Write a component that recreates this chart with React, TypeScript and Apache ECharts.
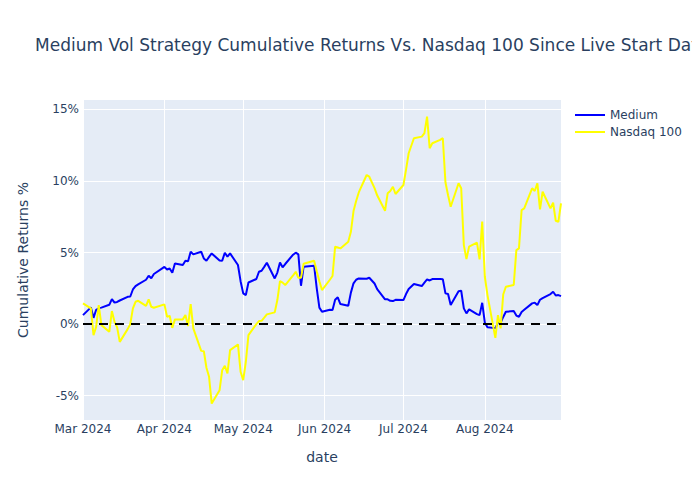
import React, { useEffect, useRef } from "react";
import * as echarts from "echarts";

const dates: string[] = [
  "2024-03-01","2024-03-04","2024-03-05","2024-03-06","2024-03-07","2024-03-08",
  "2024-03-11","2024-03-12","2024-03-13","2024-03-14","2024-03-15",
  "2024-03-18","2024-03-19","2024-03-20","2024-03-21","2024-03-22",
  "2024-03-25","2024-03-26","2024-03-27","2024-03-28",
  "2024-04-01","2024-04-02","2024-04-03","2024-04-04","2024-04-05",
  "2024-04-08","2024-04-09","2024-04-10","2024-04-11","2024-04-12",
  "2024-04-15","2024-04-16","2024-04-17","2024-04-18","2024-04-19",
  "2024-04-22","2024-04-23","2024-04-24","2024-04-25","2024-04-26",
  "2024-04-29","2024-04-30",
  "2024-05-01","2024-05-02","2024-05-03",
  "2024-05-06","2024-05-07","2024-05-08","2024-05-09","2024-05-10",
  "2024-05-13","2024-05-14","2024-05-15","2024-05-16","2024-05-17",
  "2024-05-20","2024-05-21","2024-05-22","2024-05-23","2024-05-24",
  "2024-05-28","2024-05-29","2024-05-30","2024-05-31",
  "2024-06-03","2024-06-04","2024-06-05","2024-06-06","2024-06-07",
  "2024-06-10","2024-06-11","2024-06-12","2024-06-13","2024-06-14",
  "2024-06-17","2024-06-18","2024-06-20","2024-06-21",
  "2024-06-24","2024-06-25","2024-06-26","2024-06-27","2024-06-28",
  "2024-07-01","2024-07-02","2024-07-03","2024-07-05",
  "2024-07-08","2024-07-09","2024-07-10","2024-07-11","2024-07-12",
  "2024-07-15","2024-07-16","2024-07-17","2024-07-18","2024-07-19",
  "2024-07-22","2024-07-23","2024-07-24","2024-07-25","2024-07-26",
  "2024-07-29","2024-07-30","2024-07-31",
  "2024-08-01","2024-08-02",
  "2024-08-05","2024-08-06","2024-08-07","2024-08-08","2024-08-09",
  "2024-08-12","2024-08-13","2024-08-14","2024-08-15","2024-08-16",
  "2024-08-19","2024-08-20","2024-08-21","2024-08-22","2024-08-23",
  "2024-08-26","2024-08-27","2024-08-28","2024-08-29","2024-08-30",
];

const medium: number[] = [
  0.63, 1.17, 0.44, 1.0, 1.1, 1.15,
  1.35, 1.75, 1.5, 1.55, 1.65,
  1.91, 1.93, 2.42, 2.66, 2.78,
  3.1, 3.38, 3.2, 3.5,
  4.0, 3.82, 3.89, 3.59, 4.24,
  4.13, 4.43, 4.4, 5.06, 4.87,
  5.06, 4.59, 4.43, 4.7, 4.94,
  4.45, 4.43, 4.99, 4.71, 4.94,
  4.13, 3.0,
  2.15, 2.03, 2.91,
  3.15, 3.66, 3.73, 4.0, 4.29,
  3.19, 3.6, 4.31, 3.97, 4.2,
  4.85, 4.99, 4.87, 2.68, 4.01,
  4.08, 2.5, 1.15, 0.86,
  1.0, 0.98, 1.7, 1.87, 1.4,
  1.28, 2.2, 2.85, 3.1, 3.19,
  3.17, 3.24, 2.84, 2.45,
  1.73, 1.73, 1.63, 1.61, 1.7,
  1.68, 2.1, 2.45, 2.8,
  2.66, 2.9, 3.12, 3.05, 3.15,
  3.15, 3.14, 2.15, 2.1, 1.33,
  2.3, 2.33, 1.1, 0.75, 1.03,
  0.7, 0.63, 1.49,
  0.1, -0.22,
  -0.28, 0.09, 0.09, 0.5, 0.86,
  0.91, 0.6, 0.51, 0.85, 1.0,
  1.45, 1.5, 1.33, 1.7, 1.82,
  2.1, 2.26, 2.0, 2.03, 1.96,
];

const nasdaq: number[] = [
  1.45, 1.1, -0.77, -0.19, 1.33, -0.07,
  -0.54, 0.91, 0.16, -0.23, -1.24,
  -0.35, 0.0, 1.1, 1.56, 1.63,
  1.28, 1.73, 1.21, 1.14,
  1.38, 0.51, 0.58, -0.26, 0.33,
  0.33, 0.63, -0.14, 1.4, -0.3,
  -1.87, -1.89, -3.05, -3.68, -5.55,
  -4.62, -3.22, -2.91, -3.45, -1.82,
  -1.42, -3.33,
  -3.92, -2.63, -0.77,
  0.0, 0.21, 0.23, 0.45, 0.68,
  0.82, 1.68, 3.01, 2.9, 2.73,
  3.4, 3.66, 3.24, 3.24, 4.22,
  4.43, 3.7, 3.0, 2.38,
  3.1, 3.36, 5.41, 5.35, 5.29,
  5.76, 6.45, 7.9, 8.6, 9.2,
  10.42, 10.3, 9.5, 9.0,
  7.92, 9.14, 9.3, 9.6, 9.09,
  9.72, 10.8, 11.94, 12.99,
  13.1, 13.34, 14.5, 12.29, 12.64,
  12.87, 12.99, 9.91, 9.0, 8.2,
  9.84, 9.49, 5.52, 4.55, 5.41,
  5.69, 4.52, 7.16,
  3.31, 2.03,
  -0.96, 0.63, -0.3, 2.07, 2.61,
  2.73, 5.17, 5.29, 7.97, 8.09,
  9.49, 9.3, 9.84, 8.02, 9.25,
  8.09, 8.48, 7.22, 7.15, 8.44,
];

const yTicks: number[] = [-5, 0, 5, 10, 15];
const monthStarts: string[] = ["2024-03-01", "2024-04-01", "2024-05-01", "2024-06-01", "2024-07-01", "2024-08-01"];
const monthNames = ["Jan","Feb","Mar","Apr","May","Jun","Jul","Aug","Sep","Oct","Nov","Dec"];

const FONT = '"DejaVu Sans", verdana, arial, sans-serif';
const TXT = "#2a3f5f";

const ts = (s: string) => {
  const [y, m, d] = s.split("-").map(Number);
  return Date.UTC(y, m - 1, d);
};

export default function App() {
  const ref = useRef<HTMLDivElement>(null);
  useEffect(() => {
    if (!ref.current) return;
    const chart = echarts.init(ref.current, undefined, { renderer: "svg" });
    const toPairs = (vals: number[]) => dates.map((d, i) => [ts(d), vals[i]]);
    const monthTicks = monthStarts.map(ts);
    chart.setOption({
      animation: false,
      textStyle: { fontFamily: FONT },
      title: {
        text: "Medium Vol Strategy Cumulative Returns Vs. Nasdaq 100 Since Live Start Date",
        left: 27,
        top: 28,
        padding: 0,
        textStyle: { fontFamily: FONT, fontSize: 17, fontWeight: "normal", color: TXT },
      },
      legend: {
        orient: "vertical",
        left: 562,
        top: 96,
        icon: "rect",
        itemWidth: 30,
        itemHeight: 2,
        itemGap: 5,
        textStyle: { fontFamily: FONT, fontSize: 12, color: TXT },
        data: ["Medium", "Nasdaq 100"],
      },
      grid: {
        left: 72,
        top: 92,
        width: 481,
        height: 320,
        show: true,
        backgroundColor: "#E5ECF6",
        borderWidth: 0,
      },
      xAxis: {
        type: "value",
        min: ts("2024-03-01"),
        max: ts("2024-08-30"),
        name: "date",
        nameLocation: "middle",
        nameGap: 30,
        nameTextStyle: { fontFamily: FONT, fontSize: 14, color: TXT },
        axisLine: { show: false },
        axisTick: { show: false, customValues: monthTicks },
        axisLabel: {
          customValues: monthTicks,
          fontFamily: FONT,
          fontSize: 12,
          color: TXT,
          margin: 3,
          formatter: (v: number) => {
            const d = new Date(v);
            return monthNames[d.getUTCMonth()] + " " + d.getUTCFullYear();
          },
        },
        splitLine: { show: true, lineStyle: { color: "#ffffff", width: 1 } },
      },
      yAxis: {
        type: "value",
        min: -6.7,
        max: 15.66,
        name: "Cumulative Returns %",
        nameLocation: "middle",
        nameGap: 53,
        nameTextStyle: { fontFamily: FONT, fontSize: 14, color: TXT },
        axisLine: { show: false },
        axisTick: { show: false, customValues: yTicks },
        axisLabel: {
          customValues: yTicks,
          fontFamily: FONT,
          fontSize: 12,
          color: TXT,
          margin: 4,
          formatter: (v: number) => v + "%",
        },
        splitLine: { show: true, lineStyle: { color: "#ffffff", width: 1 } },
      },
      series: [
        {
          name: "Medium",
          type: "line",
          data: toPairs(medium),
          symbol: "none",
          lineStyle: { color: "#0000ff", width: 2 },
          itemStyle: { color: "#0000ff" },
          z: 2,
        },
        {
          name: "Nasdaq 100",
          type: "line",
          data: toPairs(nasdaq),
          symbol: "none",
          lineStyle: { color: "#ffff00", width: 2 },
          itemStyle: { color: "#ffff00" },
          z: 3,
          markLine: {
            silent: true,
            symbol: ["none", "none"],
            label: { show: false },
            lineStyle: { color: "#000000", width: 2, type: [9, 7] },
            data: [{ yAxis: 0 }],
            z: 4,
          },
        },
      ],
    });
    return () => chart.dispose();
  }, []);
  return <div ref={ref} style={{ width: 700, height: 500 }} />;
}
